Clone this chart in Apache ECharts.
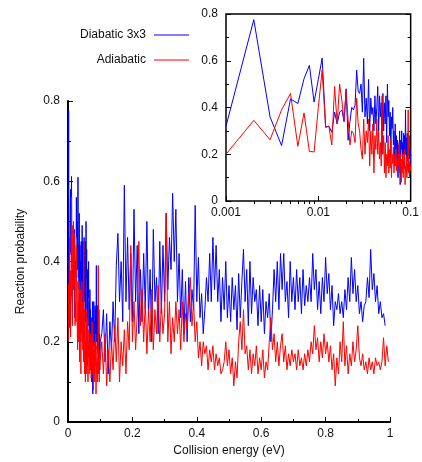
<!DOCTYPE html>
<html><head><meta charset="utf-8">
<script src="https://cdn.jsdelivr.net/npm/echarts@6/dist/echarts.min.js"></script>
<style>html,body{margin:0;padding:0;background:#fff}#c{width:422px;height:462px}</style>
</head><body><div id="c"></div>
<script>
// ---- data ----
const seriesNames = ['Diabatic 3x3', 'Adiabatic'];
// energy grid (eV): 0.001..0.100 step 0.001, then 0.105.. step 0.005
const lowEnergies = Array.from({length: 100}, (_, i) => (i + 1) / 1000);
const highEnergies = Array.from({length: 179}, (_, i) => (105 + 5 * i) / 1000);

const blueLow = [
  0.32,0.776,0.36,0.237,0.437,0.417,0.523,0.58,0.423,0.52,
  0.612,0.317,0.32,0.294,0.38,0.33,0.38,0.39,0.34,0.48,
  0.26,0.34,0.4,0.39,0.41,0.56,0.47,0.46,0.5,0.38,
  0.61,0.36,0.44,0.33,0.52,0.3,0.44,0.37,0.4,0.3,
  0.45,0.33,0.4,0.49,0.3,0.45,0.36,0.42,0.2,0.46,
  0.3,0.42,0.33,0.45,0.25,0.5,0.36,0.43,0.28,0.38,
  0.2,0.36,0.31,0.4,0.24,0.3,0.15,0.33,0.22,0.28,
  0.18,0.26,0.1,0.24,0.2,0.3,0.07,0.26,0.22,0.3,
  0.19,0.25,0.2,0.29,0.14,0.28,0.2,0.39,0.2,0.27,
  0.18,0.29,0.17,0.24,0.2,0.28,0.18,0.22,0.16,0.2
];
const blueHigh = [
  0.22,0.28,0.15,0.27,0.12,0.25,0.18,0.3,0.2,0.39,
  0.47,0.3,0.4,0.25,0.59,0.3,0.46,0.28,0.42,0.25,
  0.53,0.3,0.44,0.22,0.38,0.25,0.42,0.28,0.5,0.26,
  0.38,0.2,0.48,0.3,0.36,0.22,0.45,0.27,0.44,0.3,
  0.52,0.33,0.46,0.38,0.57,0.4,0.53,0.3,0.42,0.26,
  0.38,0.22,0.35,0.2,0.36,0.25,0.33,0.28,0.54,0.3,
  0.41,0.26,0.32,0.22,0.28,0.36,0.3,0.42,0.3,0.46,
  0.33,0.44,0.3,0.38,0.25,0.36,0.28,0.4,0.26,0.34,
  0.25,0.36,0.28,0.34,0.23,0.37,0.26,0.35,0.43,0.3,
  0.38,0.24,0.4,0.27,0.36,0.3,0.33,0.24,0.34,0.25,
  0.33,0.22,0.3,0.26,0.32,0.2,0.28,0.38,0.3,0.4,
  0.28,0.42,0.33,0.42,0.3,0.35,0.26,0.4,0.3,0.36,
  0.28,0.38,0.3,0.36,0.27,0.38,0.29,0.34,0.3,0.36,
  0.3,0.42,0.33,0.38,0.28,0.35,0.27,0.36,0.3,0.41,
  0.32,0.37,0.28,0.34,0.24,0.3,0.28,0.32,0.27,0.3,
  0.26,0.33,0.28,0.36,0.3,0.41,0.32,0.38,0.3,0.34,
  0.27,0.3,0.25,0.29,0.3,0.36,0.31,0.43,0.33,0.37,
  0.3,0.34,0.27,0.3,0.26,0.27,0.24
];
const redLow = [
  0.2,0.345,0.262,0.39,0.46,0.234,0.377,0.212,0.21,0.4,
  0.56,0.314,0.32,0.24,0.49,0.33,0.5,0.43,0.34,0.47,
  0.35,0.24,0.3,0.29,0.25,0.44,0.33,0.3,0.22,0.18,
  0.35,0.2,0.3,0.25,0.35,0.15,0.3,0.2,0.33,0.12,
  0.28,0.22,0.35,0.2,0.3,0.18,0.25,0.15,0.45,0.2,
  0.28,0.12,0.25,0.1,0.2,0.15,0.28,0.12,0.22,0.14,
  0.26,0.1,0.2,0.16,0.23,0.12,0.2,0.15,0.22,0.13,
  0.18,0.11,0.2,0.15,0.25,0.12,0.2,0.14,0.08,0.18,
  0.12,0.2,0.1,0.17,0.14,0.22,0.07,0.15,0.12,0.19,
  0.1,0.16,0.13,0.39,0.12,0.17,0.1,0.16,0.13,0.15
];
const redHigh = [
  0.2,0.12,0.22,0.09,0.18,0.1,0.2,0.13,0.24,0.15,
  0.26,0.1,0.2,0.14,0.23,0.12,0.25,0.18,0.44,0.2,
  0.3,0.18,0.27,0.45,0.24,0.33,0.2,0.3,0.17,0.28,
  0.2,0.33,0.18,0.28,0.22,0.34,0.2,0.3,0.22,0.27,
  0.52,0.2,0.3,0.17,0.26,0.2,0.3,0.22,0.28,0.18,
  0.3,0.2,0.27,0.23,0.31,0.36,0.24,0.3,0.2,0.25,
  0.16,0.2,0.14,0.2,0.17,0.19,0.13,0.18,0.15,0.19,
  0.13,0.17,0.14,0.16,0.12,0.13,0.15,0.2,0.14,0.18,
  0.12,0.16,0.09,0.15,0.11,0.2,0.25,0.18,0.28,0.17,
  0.19,0.13,0.18,0.12,0.17,0.14,0.19,0.12,0.16,0.13,
  0.18,0.11,0.15,0.13,0.2,0.26,0.18,0.22,0.15,0.2,
  0.14,0.19,0.22,0.15,0.19,0.13,0.17,0.14,0.18,0.15,
  0.17,0.13,0.18,0.14,0.16,0.13,0.17,0.14,0.18,0.15,
  0.2,0.17,0.24,0.18,0.21,0.15,0.2,0.16,0.22,0.17,
  0.2,0.15,0.19,0.13,0.17,0.09,0.16,0.12,0.2,0.15,
  0.25,0.14,0.19,0.12,0.17,0.14,0.2,0.15,0.18,0.24,
  0.16,0.14,0.17,0.13,0.15,0.12,0.16,0.13,0.15,0.12,
  0.16,0.14,0.15,0.13,0.15,0.21,0.14,0.19,0.15
];
const insetXLabels = [0.001, 0.01, 0.1];
const insetXMinor = [0.002,0.003,0.004,0.005,0.006,0.007,0.008,0.009,0.02,0.03,0.04,0.05,0.06,0.07,0.08,0.09];

// ---- build ----
function pairs(xs, ys) { return ys.map((y, i) => [xs[i], y]); }
const blueData = pairs(lowEnergies, blueLow).concat(pairs(highEnergies, blueHigh));
const redData = pairs(lowEnergies, redLow).concat(pairs(highEnergies, redHigh));
const blueInset = blueData.filter(p => p[0] <= 0.1);
const redInset = redData.filter(p => p[0] <= 0.1);

const FONT = 'Liberation Sans, Arial, sans-serif';
const TXT = {color: '#111', fontSize: 12, fontFamily: FONT};
const BLUE = '#0000ff', RED = '#ff0000';

const chart = echarts.init(document.getElementById('c'), null, {renderer: 'canvas'});
chart.setOption({
  animation: false,
  backgroundColor: '#fff',
  legend: [
    {data: [seriesNames[0]], right: 233, top: 29, align: 'right', orient: 'vertical', padding: 0,
     icon: 'rect', itemWidth: 35, itemHeight: 1.2, selectedMode: false,
     textStyle: Object.assign({padding: [0, 3, 0, 0]}, TXT)},
    {data: [seriesNames[1]], right: 233, top: 54, align: 'right', orient: 'vertical', padding: 0,
     icon: 'rect', itemWidth: 35, itemHeight: 1.2, selectedMode: false,
     textStyle: Object.assign({padding: [0, 3, 0, 0]}, TXT)}
  ],
  grid: [
    {left: 68, top: 101, right: 32, bottom: 38},
    {left: 226, top: 14, right: 10, bottom: 261, show: true, borderColor: '#000', borderWidth: 1.5, backgroundColor: 'transparent'}
  ],
  xAxis: [
    {gridIndex: 0, type: 'value', min: 0, max: 1, interval: 0.2,
     axisLine: {lineStyle: {color: '#000', width: 2}},
     axisTick: {inside: true, length: 5, lineStyle: {color: '#000', width: 1}},
     minorTick: {show: true, splitNumber: 2, length: 3, lineStyle: {color: '#000', width: 1}},
     splitLine: {show: false}, minorSplitLine: {show: false},
     axisLabel: Object.assign({margin: 6}, TXT),
     name: 'Collision energy (eV)', nameLocation: 'middle', nameGap: 23, nameTextStyle: TXT},
    {gridIndex: 1, type: 'log', logBase: 10, min: 0.001, max: 0.1,
     axisLine: {show: false},
     axisTick: {inside: true, length: 5, lineStyle: {color: '#000', width: 1}, customValues: insetXLabels},
     splitLine: {show: false},
     axisLabel: Object.assign({margin: 6, customValues: insetXLabels, formatter: v => String(+(+v).toPrecision(3))}, TXT)},
    {gridIndex: 1, type: 'log', logBase: 10, min: 0.001, max: 0.1,
     axisLine: {show: false},
     axisTick: {inside: true, length: 3, lineStyle: {color: '#000', width: 1}, customValues: insetXMinor},
     splitLine: {show: false}, axisLabel: {show: false}}
  ],
  yAxis: [
    {gridIndex: 0, type: 'value', min: 0, max: 0.8, interval: 0.2,
     axisLine: {show: true, lineStyle: {color: '#000', width: 2}},
     axisTick: {show: true, inside: true, length: 5, lineStyle: {color: '#000', width: 1}},
     minorTick: {show: true, splitNumber: 2, length: 3, lineStyle: {color: '#000', width: 1}},
     splitLine: {show: false}, minorSplitLine: {show: false},
     axisLabel: Object.assign({margin: 8}, TXT),
     name: 'Reaction probability', nameLocation: 'middle', nameGap: 41, nameRotate: 90, nameTextStyle: TXT},
    {gridIndex: 1, type: 'value', min: 0, max: 0.8, interval: 0.2,
     axisLine: {show: false},
     axisTick: {show: true, inside: true, length: 5, lineStyle: {color: '#000', width: 1}},
     minorTick: {show: true, splitNumber: 2, length: 3, lineStyle: {color: '#000', width: 1}},
     splitLine: {show: false}, minorSplitLine: {show: false},
     axisLabel: Object.assign({margin: 8}, TXT)},
    {gridIndex: 1, type: 'value', min: 0, max: 0.8, interval: 0.2, position: 'right',
     axisLine: {show: false},
     axisTick: {show: true, inside: true, length: 5, lineStyle: {color: '#000', width: 1}},
     minorTick: {show: true, splitNumber: 2, length: 3, lineStyle: {color: '#000', width: 1}},
     splitLine: {show: false}, minorSplitLine: {show: false},
     axisLabel: {show: false}}
  ],
  series: [
    {name: seriesNames[0], type: 'line', xAxisIndex: 0, yAxisIndex: 0, data: blueData, symbol: 'none',
     color: BLUE, lineStyle: {color: BLUE, width: 1}},
    {name: seriesNames[1], type: 'line', xAxisIndex: 0, yAxisIndex: 0, data: redData, symbol: 'none',
     color: RED, lineStyle: {color: RED, width: 1}},
    {name: seriesNames[0], type: 'line', xAxisIndex: 1, yAxisIndex: 1, data: blueInset, symbol: 'none',
     color: BLUE, lineStyle: {color: BLUE, width: 1}},
    {name: seriesNames[1], type: 'line', xAxisIndex: 1, yAxisIndex: 1, data: redInset, symbol: 'none',
     color: RED, lineStyle: {color: RED, width: 1}}
  ]
});
</script></body></html>
